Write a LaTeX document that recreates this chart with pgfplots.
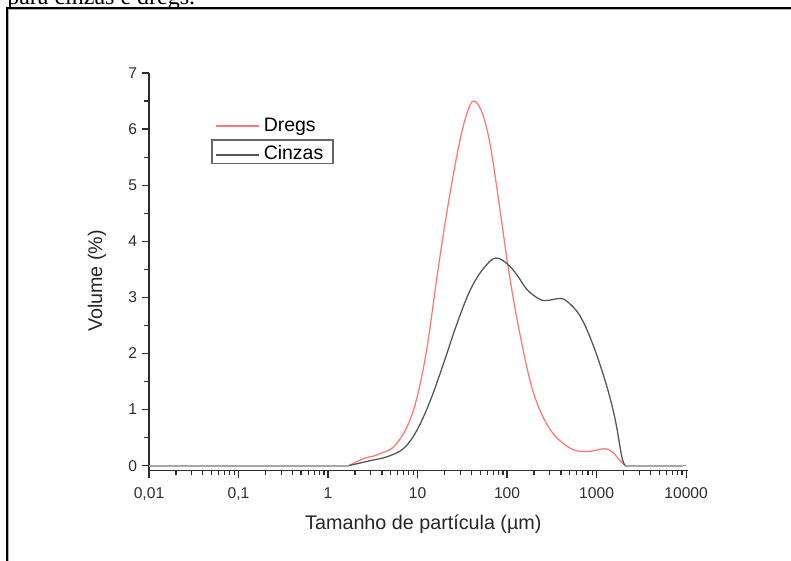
\documentclass[border=0pt]{standalone}
\usepackage{pgfplots}
\pgfplotsset{compat=1.18}
\usepackage{fontspec}
\setmainfont{Liberation Sans}
\newfontfamily\capfont{Liberation Serif}
\definecolor{dregs}{RGB}{255,120,120}
\definecolor{cinz}{RGB}{85,85,85}
\definecolor{axc}{RGB}{45,45,45}
\begin{document}
\begin{tikzpicture}[x=0.75pt,y=0.75pt]
\useasboundingbox (0,0) rectangle (791,560);
\clip (0,0) rectangle (791,560);
\fill[white] (0,0) rectangle (791,560);
\node[anchor=base west, inner sep=0pt, font=\capfont\fontsize{18}{20}\selectfont] at (7,555.5) {para cinzas e dregs.};
\draw[line width=1.6pt, black] (7,-5) -- (7,552) -- (800,552);
\draw[line width=0.6pt, gray!60] (8.6,-5) -- (8.6,550.6) -- (800,550.6);
\begin{axis}[
  at={(111.75pt,66.98pt)}, anchor=south west,
  scale only axis, width=404.25pt, height=298.3pt,
  xmode=log, xmin=0.01, xmax=10500, ymin=-0.09, ymax=7,
  axis lines=left, axis line style={-, axc, line width=0.9pt},
  every tick/.style={axc, line width=0.9pt},
  tick align=outside, major tick length=5.5pt, minor tick length=3.5pt,
  xtick={0.01,0.1,1,10,100,1000,10000},
  xticklabels={{0,01},{0,1},1,10,100,1000,10000},
  ytick={0,1,2,3,4,5,6,7}, minor y tick num=1,
  /pgf/number format/assume math mode=true,
  tick label style={font=\fontsize{11.7}{13}\selectfont, text=axc},
  xticklabel style={yshift=-4pt},
  xlabel={Tamanho de partícula (µm)},
  ylabel={Volume (\%)},
  label style={font=\fontsize{14.8}{16}\selectfont, text=black!85},
  xlabel style={at={(axis description cs:0.509,-0.149)}, anchor=base},
  ylabel style={at={(axis description cs:-0.0963,0.477)}, anchor=center},
  legend cell align=left,
  legend image code/.code={\draw[#1, line width=1.4pt] (0pt,0pt) -- (32pt,0pt);},
  legend style={draw=none, fill=none, at={(axis description cs:0.1224,0.8906)}, anchor=north west,
    font=\fontsize{14.6}{16}\selectfont, inner sep=0pt, row sep=7.4pt, column sep=3pt,
    nodes={inner sep=0pt, text height=11pt, text depth=3pt}},
  clip=false,
]
\addplot[dregs, line width=0.95pt, smooth, tension=0.6] coordinates {
(1.7,0) (2.1,0.07) (2.52,0.13) (3.2,0.17) (3.87,0.22) (5.44,0.34) (7.67,0.70) (9.91,1.23)
(12.8,2.12) (16.6,3.40) (21.4,4.55) (28.9,5.70) (35.8,6.29) (42.5,6.50) (52.6,6.29)
(65.1,5.70) (84.2,4.51) (106,3.40) (141,2.30) (198,1.29) (304,0.64) (508,0.31)
(780,0.25) (1197,0.30) (1483,0.25) (1800,0.10) (2089,0)
};
\addlegendentry{Dregs}
\addplot[cinz, line width=0.95pt, smooth, tension=0.6] coordinates {
(1.7,0) (2.99,0.09) (4.59,0.16) (7.03,0.31) (9.91,0.64) (13.96,1.17) (19.6,1.83)
(27.7,2.54) (39.0,3.14) (54.8,3.52) (74.1,3.70) (100,3.60) (129,3.40) (167,3.14)
(235,2.96) (300,2.95) (380,2.98) (467,2.93) (658,2.66) (925,2.13) (1303,1.41)
(1614,0.82) (1914,0.16) (2089,0)
};
\addlegendentry{Cinzas}
\addplot[dregs, line width=1.2pt, forget plot] coordinates {(2089,0) (10000,0)};
\addplot[gray!70, line width=1.6pt, forget plot] coordinates {(0.01,0) (1.7,0)};
\addplot[gray!70, line width=1.6pt, forget plot] coordinates {(2089,0) (9300,0)};
\draw[gray!80!black, line width=0.8pt] (axis description cs:0.1169,0.7712) rectangle (axis description cs:0.3414,0.8315);
\end{axis}
\end{tikzpicture}
\end{document}
